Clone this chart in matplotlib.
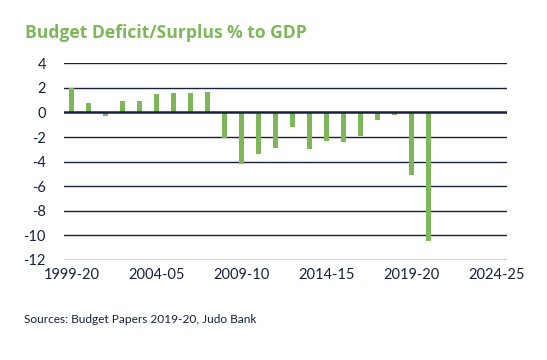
import matplotlib
matplotlib.use("Agg")
import matplotlib.pyplot as plt
import numpy as np

years = ["1999-00", "2000-01", "2001-02", "2002-03", "2003-04", "2004-05", "2005-06",
         "2006-07", "2007-08", "2008-09", "2009-10", "2010-11", "2011-12", "2012-13",
         "2013-14", "2014-15", "2015-16", "2016-17", "2017-18", "2018-19", "2019-20",
         "2020-21"]
values = [2.0, 0.8, -0.3, 0.9, 0.9, 1.5, 1.55, 1.6, 1.7, -2.1, -4.2, -3.4, -2.9, -1.2,
          -3.0, -2.3, -2.4, -1.9, -0.6, -0.2, -5.1, -10.5]
tick_pos = [0, 5, 10, 15, 20, 25]
tick_labels = ["1999-20", "2004-05", "2009-10", "2014-15", "2019-20", "2024-25"]
yticks = [4, 2, 0, -2, -4, -6, -8, -10, -12]

green = "#7db75a"
navy = "#16213d"

fig = plt.figure(figsize=(5.47, 3.6), dpi=100)
ax = fig.add_axes([0.117, 0.278, 0.809, 0.546])

x = np.arange(len(values))
ax.bar(x, values, width=0.27, color=green, zorder=3)

for v in yticks:
    ax.axhline(v, color=navy, lw=1.8 if v == 0 else 1.0, zorder=4 if v == 0 else 1)

ax.set_xlim(-0.45, 25.6)
ax.set_ylim(-12, 4)
ax.set_yticks(yticks)
ax.set_yticklabels([str(v) for v in yticks], fontsize=10.5, color=navy, family="Lato")
ax.set_xticks(tick_pos)
ax.set_xticklabels(tick_labels, fontsize=10.5, color=navy, family="Lato")
ax.tick_params(length=0, pad=6)
ax.tick_params(axis="y", pad=13)
for s in ax.spines.values():
    s.set_visible(False)

fig.text(0.046, 0.907, "Budget Deficit/Surplus % to GDP", color=green, fontsize=12.6,
         fontweight="bold", family="Open Sans", va="center", ha="left")
fig.text(0.044, 0.113, "Sources: Budget Papers 2019-20, Judo Bank", color=navy,
         fontsize=8.6, family="Lato", va="center", ha="left")

fig.savefig("out.png", dpi=100)
